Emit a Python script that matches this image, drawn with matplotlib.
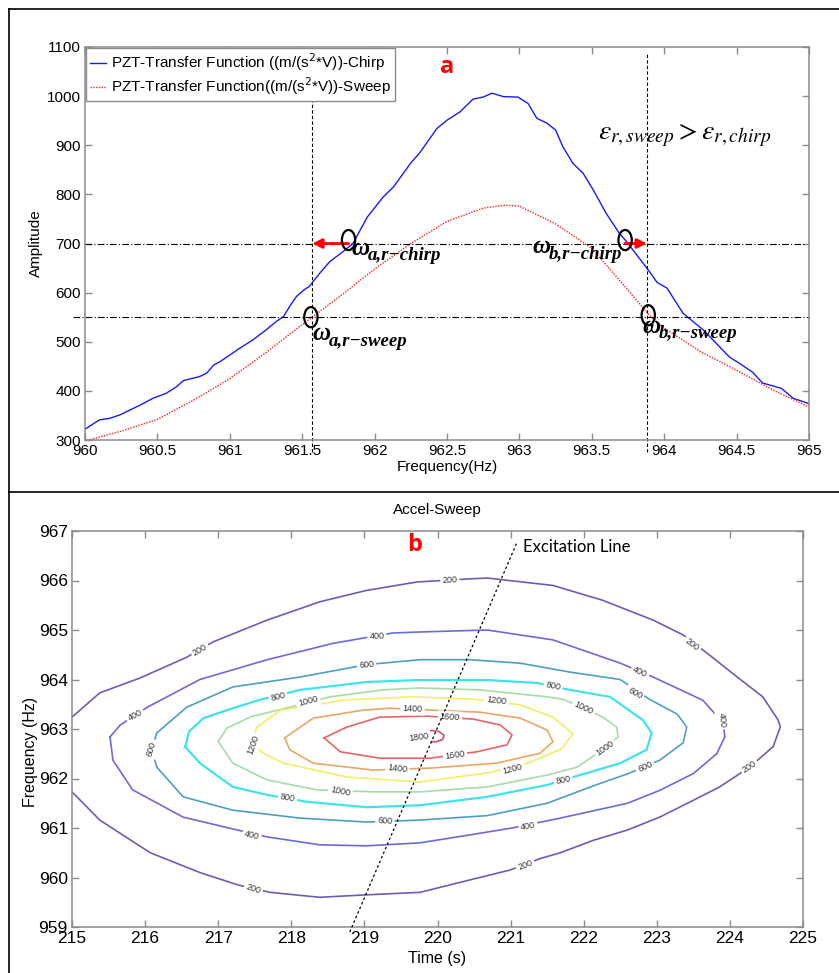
import numpy as np
import matplotlib
matplotlib.use('Agg')
import matplotlib.pyplot as plt
from matplotlib.patches import Ellipse
from matplotlib.lines import Line2D

plt.rcParams['font.family'] = ['Liberation Sans', 'DejaVu Sans']

# ---------------- (a) transfer function ----------------
freq_chirp = [960.00, 960.10, 960.17, 960.24, 960.31, 960.38, 960.47, 960.56, 960.63, 960.68,
              960.79, 960.84, 960.89, 960.93, 961.02, 961.07, 961.16, 961.25, 961.32, 961.37,
              961.42, 961.46, 961.51, 961.55, 961.62, 961.69, 961.78, 961.85, 961.95, 962.06,
              962.13, 962.25, 962.31, 962.43, 962.50, 962.59, 962.68, 962.75, 962.81, 962.89,
              962.99, 963.06, 963.12, 963.19, 963.25, 963.30, 963.37, 963.44, 963.51, 963.60,
              963.69, 963.74, 963.89, 963.95, 964.02, 964.13, 964.27, 964.45, 964.52, 964.61,
              964.68, 964.81, 964.89, 964.99, 965.00]
amp_chirp = [322, 341, 344, 351, 361, 371, 385, 395, 408, 421,
             429, 436, 453, 459, 477, 487, 504, 524, 541, 551,
             575, 592, 605, 613, 639, 663, 683, 700, 754, 795,
             815, 864, 884, 934, 951, 968, 994, 998, 1006, 999,
             998, 985, 955, 945, 931, 897, 863, 843, 809, 761,
             721, 704, 646, 621, 609, 558, 524, 469, 456, 438,
             416, 405, 385, 375, 373]

freq_sweep = [960.0, 960.25, 960.5, 960.75, 961.0, 961.25, 961.5, 961.75, 962.0, 962.25,
              962.5, 962.75, 962.9, 963.0, 963.25, 963.5, 963.75, 963.9, 964.0, 964.25,
              964.5, 964.75, 965.0]
amp_sweep = [298, 318, 342, 381, 425, 478, 535, 590, 648, 700,
             745, 772, 778, 776, 740, 690, 605, 553, 528, 480,
             442, 402, 367]

level_chirp = 700
level_sweep = 550
band_edges = [961.57, 963.88]

# circled crossing points (frequency, amplitude)
ring_f = [961.82, 961.56, 963.73, 963.89]
ring_a = [707, 550, 707, 554]

# omega labels: main glyph + subscript
omega_sub = ['a,r\u2212chirp', 'a,r\u2212sweep', 'b,r\u2212chirp', 'b,r\u2212sweep']
omega_f = [961.84, 961.57, 963.09, 963.85]
omega_a = [677, 503, 680, 518]

# ---------------- (b) Accel-Sweep contours ----------------
levels = [200, 400, 600, 800, 1000, 1200, 1400, 1600, 1800]
level_colors = ['#6a5fb5', '#6e6ad8', '#4f9fc0', '#3fe3ea', '#a5dca8',
                '#f2ee66', '#e9a766', '#e8646a', '#d0506a']

t200 = [215.0, 215.38, 215.93, 216.57, 216.93, 217.67, 218.39, 219.03, 219.72, 220.4,
        220.68, 221.58, 222.26, 222.95, 223.36, 223.69, 224.1, 224.45, 224.66, 224.69,
        224.59, 224.27, 223.86, 223.5, 223.04, 222.6, 222.13, 221.68, 221.4, 220.99,
        220.44, 219.76, 219.03, 218.39, 217.71, 217.27, 216.75, 216.07, 215.38, 215.0]
f200 = [963.24, 963.73, 964.03, 964.45, 964.76, 965.2, 965.57, 965.8, 965.97, 966.03,
        966.05, 965.9, 965.6, 965.2, 964.9, 964.53, 964.05, 963.65, 963.18, 963.04,
        962.64, 962.23, 961.83, 961.56, 961.22, 960.96, 960.75, 960.5, 960.38, 960.15,
        959.95, 959.7, 959.65, 959.6, 959.7, 959.85, 960.1, 960.5, 961.16, 961.73]

t400 = [215.52, 215.66, 216.03, 216.75, 217.67, 218.57, 219.39, 219.76, 220.68, 221.58,
        222.5, 222.95, 223.63, 223.91, 223.93, 223.82, 223.5, 223.04, 222.6, 221.68,
        221.02, 220.44, 219.76, 219.03, 218.39, 217.67, 217.26, 216.52, 215.83, 215.56, 215.52]
f400 = [962.84, 963.08, 963.44, 964.0, 964.4, 964.73, 964.94, 964.96, 965.0, 964.8,
        964.33, 964.05, 963.58, 963.12, 962.84, 962.5, 962.1, 961.76, 961.5, 961.2,
        961.0, 960.86, 960.7, 960.64, 960.66, 960.82, 960.96, 961.22, 961.77, 962.37, 962.84]

t600 = [216.09, 216.16, 216.57, 217.2, 218.12, 219.03, 219.76, 220.44, 221.13, 221.81,
        222.5, 222.9, 223.28, 223.41, 223.36, 223.04, 222.63, 222.13, 221.5, 220.68,
        219.76, 219.03, 218.12, 217.2, 216.52, 216.16, 216.09]
f600 = [962.58, 962.92, 963.44, 963.85, 964.05, 964.3, 964.4, 964.4, 964.33, 964.15,
        964.0, 963.6, 963.3, 963.04, 962.72, 962.37, 962.11, 961.85, 961.5, 961.25,
        961.16, 961.12, 961.2, 961.36, 961.63, 962.23, 962.58]

t800 = [216.55, 216.6, 216.8, 217.2, 217.57, 218.12, 219.03, 219.76, 220.68, 221.36,
        221.81, 222.36, 222.81, 222.93, 222.86, 222.5, 221.95, 221.5, 220.68, 219.76,
        219.03, 218.21, 217.67, 217.2, 216.75, 216.55]
f800 = [962.64, 962.95, 963.22, 963.42, 963.59, 963.79, 963.95, 963.99, 963.99, 963.93,
        963.79, 963.65, 963.18, 962.92, 962.58, 962.31, 962.07, 961.87, 961.63, 961.46,
        961.42, 961.53, 961.67, 961.83, 962.31, 962.64]

t1000 = [217.0, 217.12, 217.45, 217.98, 218.53, 219.25, 219.76, 220.58, 221.5, 221.72,
         222.0, 222.26, 222.45, 222.47, 222.29, 222.09, 221.91, 221.5, 220.68, 219.76,
         219.12, 218.35, 217.67, 217.2, 217.0]
f1000 = [962.75, 963.02, 963.25, 963.44, 963.65, 963.79, 963.83, 963.79, 963.65, 963.6,
         963.42, 963.24, 963.04, 962.84, 962.62, 962.41, 962.23, 962.07, 961.83, 961.73,
         961.73, 961.77, 961.97, 962.31, 962.75]

t1200 = [217.45, 217.53, 217.85, 218.76, 219.66, 220.49, 221.13, 221.58, 221.85, 221.7,
         221.27, 220.72, 219.76, 218.76, 217.89, 217.62, 217.45]
f1200 = [962.7, 963.04, 963.38, 963.59, 963.65, 963.6, 963.49, 963.24, 962.9, 962.6,
         962.33, 962.12, 961.93, 962.03, 962.31, 962.51, 962.7]

t1400 = [217.91, 218.3, 218.98, 219.35, 219.94, 220.58, 221.13, 221.5, 221.58, 221.4,
         220.81, 219.9, 219.12, 218.3, 217.98, 217.91]
f1400 = [962.82, 963.22, 963.38, 963.42, 963.38, 963.34, 963.22, 962.98, 962.74, 962.51,
         962.31, 962.21, 962.17, 962.31, 962.58, 962.82]

t1600 = [218.45, 218.76, 219.21, 219.86, 220.49, 220.86, 221.02, 220.95, 220.54, 219.9,
         219.21, 218.67, 218.45]
f1600 = [962.82, 963.04, 963.24, 963.26, 963.2, 963.08, 962.88, 962.68, 962.54, 962.41,
         962.41, 962.54, 962.82]

t1800 = [219.82, 219.92, 220.02, 220.09, 220.07, 219.98, 219.9]
f1800 = [962.95, 962.97, 962.95, 962.87, 962.79, 962.74, 962.75]

contour_t = [t200, t400, t600, t800, t1000, t1200, t1400, t1600, t1800]
contour_f = [f200, f400, f600, f800, f1000, f1200, f1400, f1600, f1800]

# inline label positions for each level
label_pos = [
    [(216.75, 964.6), (220.17, 966.0), (223.48, 964.7), (224.27, 962.23), (221.2, 960.25), (217.48, 959.77)],
    [(215.86, 963.28), (219.17, 964.88), (222.77, 964.15), (223.89, 963.18), (221.24, 961.04), (217.46, 960.86)],
    [(216.09, 962.6), (219.03, 964.3), (222.7, 963.73), (222.84, 962.23), (219.28, 961.14)],
    [(217.82, 963.65), (221.58, 963.86), (221.72, 961.97), (217.95, 961.6)],
    [(218.23, 963.56), (222.0, 963.42), (222.29, 962.62), (218.67, 961.74)],
    [(217.48, 962.68), (220.81, 963.57), (221.03, 962.2)],
    [(219.66, 963.41), (219.45, 962.19)],
    [(220.17, 963.23), (220.24, 962.47)],
    [(219.74, 962.84)],
]

excitation_t = [218.8, 221.09]
excitation_f = [958.9, 966.78]

fig = plt.figure(figsize=(8.39, 9.73), dpi=100)

# panel frames
fig.add_artist(Line2D([9/839, 9/839], [0, 1 - 9/973], color='black', lw=1.2))
fig.add_artist(Line2D([9/839, 1], [1 - 9/973, 1 - 9/973], color='black', lw=1.2))
fig.add_artist(Line2D([9/839, 1], [1 - 492/973, 1 - 492/973], color='black', lw=1.2))


def matlab_axes(ax, size):
    for s in ax.spines.values():
        s.set_color('#8c8c8c')
        s.set_linewidth(1.1)
    ax.tick_params(direction='in', length=5, width=1, color='#8c8c8c',
                   top=True, right=True, labelsize=size, pad=3)


# ---- top panel
ax1 = fig.add_axes([85/839, 1 - 440/973, 724/839, 393/973])
ax1.plot(freq_chirp, amp_chirp, color='#1a1aff', lw=1.0,
         label=r'PZT-Transfer Function ((m/(s$^{2}$*V))-Chirp')
ax1.plot(freq_sweep, amp_sweep, color='#ff2020', lw=1.0, ls=(0, (1, 1)),
         label=r'PZT-Transfer Function((m/(s$^{2}$*V))-Sweep')
ax1.set_xlim(960, 965)
ax1.set_ylim(300, 1100)
ax1.set_xticks(np.arange(960, 965.01, 0.5))
ax1.set_xticklabels(['960', '960.5', '961', '961.5', '962', '962.5', '963', '963.5', '964', '964.5', '965'])
ax1.set_yticks(np.arange(300, 1101, 100))
matlab_axes(ax1, 11)
ax1.set_xlabel('Frequency(Hz)', fontsize=11)
ax1.xaxis.set_label_coords(0.5, -27/393)
ax1.xaxis.label.set_va('center')
ax1.set_ylabel('Amplitude', fontsize=11)
ax1.yaxis.set_label_coords(-49/724, 0.5)
ax1.yaxis.label.set_va('center')

leg = ax1.legend(loc='upper left', fontsize=11, fancybox=False, edgecolor='#8c8c8c',
                 borderaxespad=0.05, handlelength=1.1, handletextpad=0.3,
                 borderpad=0.25, labelspacing=0.15, framealpha=1)
leg.get_frame().set_linewidth(1.0)

# reference levels and band edges
ax1.plot([960, 964.97], [level_chirp, level_chirp], color='black', lw=0.8,
         ls=(0, (6, 2, 1, 2)), clip_on=False)
ax1.plot([959.92, 965], [level_sweep, level_sweep], color='black', lw=0.8,
         ls=(0, (6, 2, 1, 2)), clip_on=False)
for fe in band_edges:
    ax1.plot([fe, fe], [275, 1086], color='black', lw=0.8, ls=(0, (3, 2)), clip_on=False)

ax1.annotate('', xy=(band_edges[0], level_chirp), xytext=(ring_f[0], level_chirp),
             arrowprops=dict(arrowstyle='-|>', color='red', lw=2, mutation_scale=14,
                             shrinkA=0, shrinkB=0))
ax1.annotate('', xy=(band_edges[1], level_chirp), xytext=(ring_f[2], level_chirp),
             arrowprops=dict(arrowstyle='-|>', color='red', lw=2, mutation_scale=14,
                             shrinkA=0, shrinkB=0))

for fr, am in zip(ring_f, ring_a):
    ax1.add_patch(Ellipse((fr, am), 0.092, 41, fill=False, ec='black', lw=1.6, zorder=5))

serif_bi = dict(family=['Liberation Serif', 'DejaVu Serif'], style='italic', fontweight='bold')
for sub, fr, am in zip(omega_sub, omega_f, omega_a):
    ax1.text(fr, am, '\u03c9', fontsize=18, va='baseline', ha='left', **serif_bi)
    ax1.annotate(sub, (fr, am), xytext=(12, -4), textcoords='offset points',
                 fontsize=13.5, va='baseline', ha='left', **serif_bi)

ax1.text(963.54, 911, r'$\varepsilon_{r,sweep} > \varepsilon_{r,chirp}$', fontsize=20,
         math_fontfamily='stix', va='baseline', ha='left')
ax1.text(962.5, 1059, 'a', color='red', fontsize=17, fontweight='bold',
         family='Open Sans', ha='center', va='center')

# ---- bottom panel
ax2 = fig.add_axes([72/839, 1 - 927/973, 731/839, 396/973])
ax2.set_xlim(215, 225)
ax2.set_ylim(959, 967)
ax2.set_xticks(np.arange(215, 226, 1))
ax2.set_yticks(np.arange(959, 968, 1))
matlab_axes(ax2, 12.5)
ax2.set_title('Accel-Sweep', fontsize=11, pad=12)
ax2.set_xlabel('Time (s)', fontsize=11.5)
ax2.xaxis.set_label_coords(0.5, -31/396)
ax2.xaxis.label.set_va('center')
ax2.set_ylabel('Frequency (Hz)', fontsize=11.5)
ax2.yaxis.set_label_coords(-41/731, 0.442)
ax2.yaxis.label.set_va('center')

for lev, col, ts, fs in zip(levels, level_colors, contour_t, contour_f):
    lw = 1.6 if lev == 800 else 1.2
    ax2.plot(ts, fs, color=col, lw=lw, zorder=2)

# inline labels, oriented along the nearest segment
for lev, ts, fs, spots in zip(levels, contour_t, contour_f, label_pos):
    pts = ax2.transData.transform(np.column_stack([ts, fs]))
    for tl, fl in spots:
        p = ax2.transData.transform((tl, fl))
        i = int(np.argmin(np.hypot(pts[:, 0] - p[0], pts[:, 1] - p[1])))
        j = i + 1 if i + 1 < len(pts) else i - 1
        d = pts[max(i, j)] - pts[min(i, j)]
        ang = np.degrees(np.arctan2(d[1], d[0]))
        if ang > 90:
            ang -= 180
        elif ang <= -90:
            ang += 180
        ax2.text(tl, fl, str(lev), fontsize=6.5, color='#333333', rotation=ang,
                 rotation_mode='anchor', ha='center', va='center', zorder=3,
                 bbox=dict(fc='white', ec='none', pad=1.5))

ax2.plot(excitation_t, excitation_f, color='black', lw=0.9, ls=(0, (2, 2)),
         clip_on=False, zorder=4)
ax2.text(221.17, 966.68, 'Excitation Line', fontsize=12, family='Lato',
         ha='left', va='center')
ax2.text(219.69, 966.72, 'b', color='red', fontsize=17, fontweight='bold',
         family='Open Sans', ha='center', va='center')

fig.savefig('out.png', dpi=100)
